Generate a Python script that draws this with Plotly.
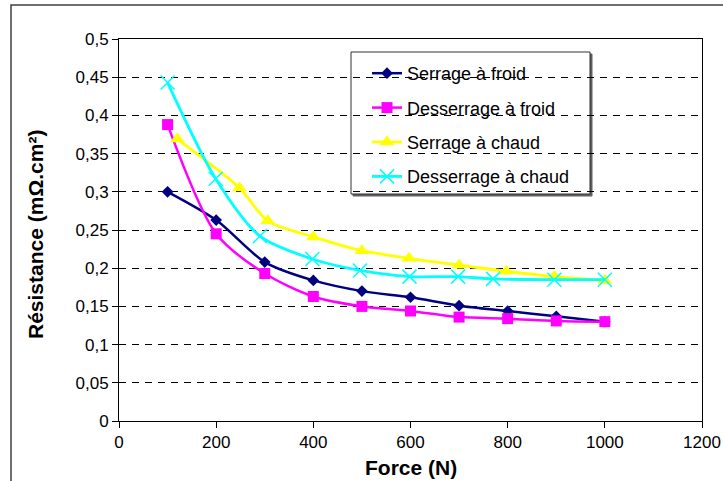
import plotly.graph_objects as go

# ---- data ----
x_serrage_froid = [100, 200, 300, 400, 500, 600, 700, 800, 900, 1000]
y_serrage_froid = [0.300, 0.263, 0.208, 0.184, 0.170, 0.162, 0.151, 0.144, 0.137, 0.130]

x_desserrage_froid = [100, 200, 300, 400, 500, 600, 700, 800, 900, 1000]
y_desserrage_froid = [0.388, 0.245, 0.193, 0.163, 0.150, 0.144, 0.136, 0.134, 0.131, 0.130]

x_serrage_chaud = [120, 248, 306, 400, 500, 597, 700, 797, 896, 1000]
y_serrage_chaud = [0.369, 0.305, 0.262, 0.241, 0.223, 0.213, 0.204, 0.196, 0.189, 0.184]

x_desserrage_chaud = [100, 199, 290, 398, 496, 598, 698, 770, 896, 1000]
y_desserrage_chaud = [0.443, 0.317, 0.242, 0.212, 0.197, 0.189, 0.189, 0.186, 0.185, 0.185]

series_names = ["Serrage à froid", "Desserrage à froid", "Serrage à chaud", "Desserrage à chaud"]

x_tickvals = [0, 200, 400, 600, 800, 1000, 1200]
x_ticktext = ["0", "200", "400", "600", "800", "1000", "1200"]
y_tickvals = [0, 0.05, 0.1, 0.15, 0.2, 0.25, 0.3, 0.35, 0.4, 0.45, 0.5]
y_ticktext = ["0", "0,05", "0,1", "0,15", "0,2", "0,25", "0,3", "0,35", "0,4", "0,45", "0,5"]

x_title = "Force (N)"
y_title = "Résistance (mΩ.cm²)"

FONT = "Liberation Sans, Arial, sans-serif"

fig = go.Figure()

styles = [
    dict(color="#000080", symbol="diamond", size=9, lw=2.5),
    dict(color="#FF00FF", symbol="square", size=11, lw=2.5),
    dict(color="#FFFF00", symbol="triangle-up", size=13, lw=2.8),
    dict(color="#00FFFF", symbol="x-thin", size=14, lw=2.8),
]
data = [
    (x_serrage_froid, y_serrage_froid),
    (x_desserrage_froid, y_desserrage_froid),
    (x_serrage_chaud, y_serrage_chaud),
    (x_desserrage_chaud, y_desserrage_chaud),
]

for i, ((xs, ys), name, st) in enumerate(zip(data, series_names, styles)):
    marker = dict(symbol=st["symbol"], size=st["size"], color=st["color"])
    if st["symbol"] == "x-thin":
        marker["line"] = dict(color=st["color"], width=1.5)
    else:
        marker["line"] = dict(color=st["color"], width=0)
    fig.add_trace(go.Scatter(
        x=xs, y=ys, name=name, mode="lines+markers",
        line=dict(color=st["color"], width=st["lw"], shape="spline", smoothing=0.8),
        marker=marker, legendgroup=f"g{i}",
    ))

# pixel helpers for layout-only shapes (plot area 119..702 x, 39..421 y)
L, R, T, B = 119, 702, 39, 421
def px(xp):
    return (xp - L) / (R - L)
def py(yp):
    return (B - yp) / (B - T)

shapes = [
    # outer chart border
    dict(type="rect", xref="paper", yref="paper",
         x0=px(11), x1=px(730), y0=py(490), y1=py(5),
         line=dict(color="#404040", width=1.5), fillcolor="rgba(0,0,0,0)", layer="above"),
    # legend shadow
    dict(type="rect", xref="paper", yref="paper",
         x0=px(353), x1=px(592), y0=py(196), y1=py(54),
         line=dict(color="#606060", width=1), fillcolor="#606060", layer="between"),
    # legend box
    dict(type="rect", xref="paper", yref="paper",
         x0=px(351), x1=px(590), y0=py(194), y1=py(52),
         line=dict(color="#303030", width=1), fillcolor="white", layer="between"),
]

fig.update_layout(
    width=723, height=481,
    margin=dict(l=L, r=723 - R, t=T, b=481 - B, autoexpand=False),
    paper_bgcolor="white", plot_bgcolor="white",
    font=dict(family=FONT, size=17, color="black"),
    showlegend=True,
    legend=dict(
        x=px(367), y=py(55), xanchor="left", yanchor="top",
        bgcolor="rgba(0,0,0,0)", borderwidth=0,
        font=dict(family=FONT, size=18, color="black"),
        tracegroupgap=8,
    ),
    shapes=shapes,
    annotations=[
        dict(text=f"<b>{x_title}</b>", xref="paper", yref="paper",
             x=0.5, y=py(467), xanchor="center", yanchor="middle",
             showarrow=False, font=dict(family=FONT, size=21, color="black")),
        dict(text=f"<b>{y_title}</b>", xref="paper", yref="paper",
             x=px(35), y=py(234), xanchor="center", yanchor="middle", textangle=-90,
             showarrow=False, font=dict(family=FONT, size=21, color="black")),
    ],
)

fig.update_xaxes(
    range=[0, 1200], tickvals=x_tickvals, ticktext=x_ticktext,
    showgrid=False, zeroline=False, automargin=False,
    showline=True, linecolor="black", linewidth=1, mirror=True,
    ticks="outside", ticklen=6, tickcolor="black",
    tickfont=dict(family=FONT, size=17, color="black"),
)
fig.update_yaxes(
    range=[0, 0.5], tickvals=y_tickvals, ticktext=y_ticktext,
    showgrid=True, gridcolor="black", gridwidth=1, griddash="7px,6px",
    zeroline=False, automargin=False,
    showline=True, linecolor="black", linewidth=1, mirror=True,
    ticks="outside", ticklen=6, tickcolor="black",
    tickfont=dict(family=FONT, size=17, color="black"),
)

fig.write_html(
    "out.html",
    config={"displayModeBar": False},
    post_script="document.body.style.margin='0';document.body.style.overflow='hidden';",
)
